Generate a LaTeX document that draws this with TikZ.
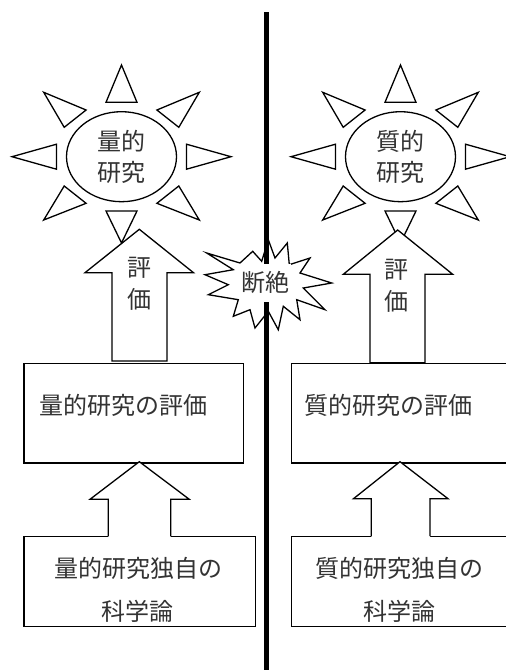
\documentclass[tikz,border=0pt]{standalone}
\usepackage{fontspec}
\setmainfont{Noto Sans CJK JP}
\usetikzlibrary{shapes.geometric}
\newcommand\sunrays[2]{%
 \begin{scope}[shift={(#1,#2)}]
  \draw[shp] (0,-91.7) -- (-15.5,-54.4) -- (15.5,-54.4) -- cycle;
  \draw[shp] (0,86.3) -- (-15.5,54.3) -- (15.5,54.3) -- cycle;
  \draw[shp] (-109.5,0) -- (-65,-12.5) -- (-65,12.5) -- cycle;
  \draw[shp] (109.5,0) -- (65,-12.5) -- (65,12.5) -- cycle;
  \draw[shp] (-77.8,-64.4) -- (-35.4,-46.7) -- (-57.3,-29.4) -- cycle;
  \draw[shp] (77.8,-64.4) -- (35.4,-46.7) -- (57.3,-29.4) -- cycle;
  \draw[shp] (-77.8,63.3) -- (-35.4,46.6) -- (-57.3,29.3) -- cycle;
  \draw[shp] (77.8,63.3) -- (35.4,46.6) -- (57.3,29.3) -- cycle;
 \end{scope}}
\begin{document}
\begin{tikzpicture}[x=1pt,y=-1pt,line width=1.3pt,line join=miter,
  shp/.style={draw=black,fill=white},
  txt/.style={font=\fontsize{24}{32}\selectfont,inner sep=0pt,align=center,text=black!80},
  boxst/.style={draw=black,fill=white,inner sep=0pt,anchor=north west},
  sunst/.style={ellipse,draw=black,fill=white,inner sep=0pt,minimum width=110pt,minimum height=90pt,
     font=\fontsize{24}{31.5}\selectfont,align=center,text=black!80}]
\useasboundingbox (0,0) rectangle (506,670);
\clip (0,0) rectangle (506,670);

% upper boxes
\node[boxst,minimum width=219.4pt,minimum height=99.6pt] (evalQ) at (23.3,362.7) {};
\node[boxst,minimum width=219.4pt,minimum height=99.6pt] (evalK) at (290.7,362.7) {};
\node[txt,anchor=west] (evalQt) at (38.5,405) {量的研究の評価};
\node[txt,anchor=west] (evalKt) at (303.5,405) {質的研究の評価};

% suns
\sunrays{121.5}{156.7}
\sunrays{400.5}{156.7}
\node[sunst] (sunQ) at (121.5,156.7) {量的\\研究};
\node[sunst] (sunK) at (400.5,156.7) {質的\\研究};

% upper arrows
\draw[shp] (139.3,229.3) -- (193.5,272.7) -- (167,272.7) -- (167,361) -- (112,361) -- (112,272.7) -- (85,272.7) -- cycle;
\draw[shp] (397.7,230) -- (452.7,274.3) -- (425,274.3) -- (425,362.7) -- (370,362.7) -- (370,274.3) -- (343.3,274.3) -- cycle;
\node[txt] (arrQt) at (139,284) {評\\価};
\node[txt] (arrKt) at (396,286) {評\\価};

% lower boxes
\node[boxst,minimum width=231.7pt,minimum height=90pt] (baseQ) at (23.3,536) {};
\node[boxst,minimum width=231.7pt,minimum height=90pt] (baseK) at (290.7,536) {};
\node[txt,anchor=west] (baseQt1) at (53.5,568) {量的研究独自の};
\node[txt] (baseQt2) at (137.5,611.7) {科学論};
\node[txt,anchor=west] (baseKt1) at (315,568) {質的研究独自の};
\node[txt] (baseKt2) at (399.5,611.3) {科学論};

% lower arrows
\fill[white] (139.3,461.7) -- (189.3,499.3) -- (170.7,499.3) -- (170.7,537) -- (108.3,537) -- (108.3,499.3) -- (90,499.3) -- cycle;
\draw (108.3,536) -- (108.3,499.3) -- (90,499.3) -- (139.3,461.7) -- (189.3,499.3) -- (170.7,499.3) -- (170.7,536);
\fill[white] (400,461.7) -- (448,498.7) -- (430,498.7) -- (430,537) -- (371.3,537) -- (371.3,498.7) -- (353.5,498.7) -- cycle;
\draw (371.3,536) -- (371.3,498.7) -- (353.5,498.7) -- (400,461.7) -- (448,498.7) -- (430,498.7) -- (430,536);

% starburst
\draw[shp] (206.7,253) -- (240,263) -- (252.7,251.3) -- (261.7,261.3) -- (268.3,239.7) -- (275,258)
  -- (287.3,243) -- (289.3,264.7) -- (310,258) -- (300,273) -- (331.7,283) -- (303.3,288)
  -- (325,309.7) -- (296.7,299.7) -- (300,319.7) -- (283.3,306.3) -- (278.3,329.7) -- (268.3,311.3)
  -- (255,328) -- (250,309.7) -- (233.3,316.3) -- (238.3,299.7) -- (208.3,294.7) -- (228.3,284.7)
  -- (205,274.7) -- (233.3,269.7) -- cycle;

% dividing line
\coordinate (divTop) at (266.5,12);
\coordinate (divBot) at (266.5,672);
\draw[line width=5pt] (divTop) -- (divBot);

\node[txt,fill=white,minimum width=50pt,minimum height=38pt] (gap) at (265.5,282.5) {断絶};
\end{tikzpicture}
\end{document}
